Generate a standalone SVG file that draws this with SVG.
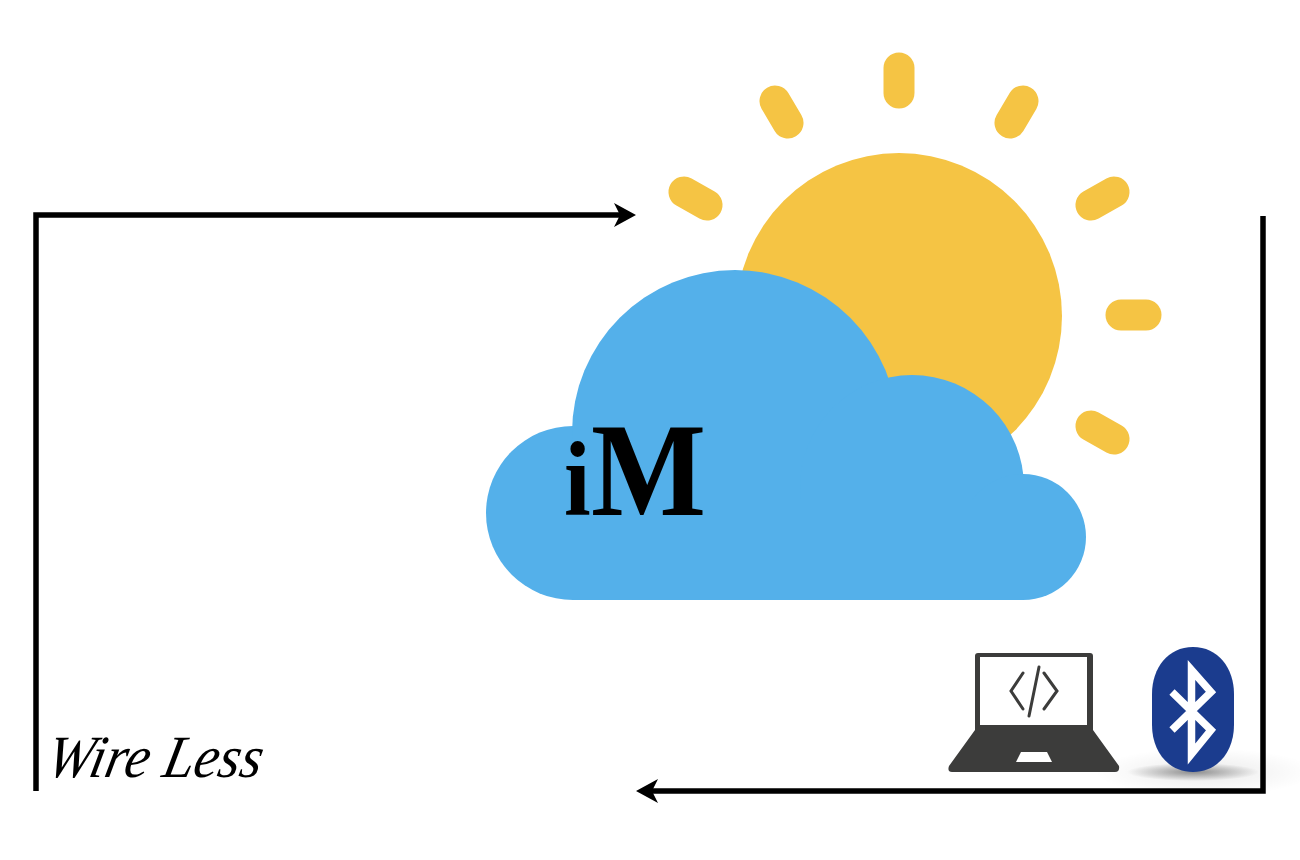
<svg xmlns="http://www.w3.org/2000/svg" width="1300" height="860" viewBox="0 0 1300 860">
<style>
.wire{fill:none;stroke:#000;stroke-width:5.500;stroke-linecap:butt;stroke-linejoin:miter}
.ray{fill:none;stroke:#f5c444;stroke-width:31;stroke-linecap:round}
.cloud{fill:#54b0ea}
.code{fill:none;stroke:#3c3c3b;stroke-width:3;stroke-linecap:round;stroke-linejoin:miter}
</style>
<defs>
<marker id="arrow" markerUnits="userSpaceOnUse" markerWidth="24" markerHeight="26" refX="7" refY="13" orient="auto">
<path d="M0 1 L22 13 L0 25 L6 13 Z" fill="#000"/>
</marker>
<radialGradient id="sh" cx="0.5" cy="0.5" r="0.5">
<stop offset="0" stop-color="#000" stop-opacity="0.4"/>
<stop offset="0.6" stop-color="#000" stop-opacity="0.16"/>
<stop offset="1" stop-color="#000" stop-opacity="0"/>
</radialGradient>
<radialGradient id="sh2" cx="0.5" cy="0.5" r="0.5">
<stop offset="0" stop-color="#000" stop-opacity="0.08"/>
<stop offset="1" stop-color="#000" stop-opacity="0"/>
</radialGradient>
</defs>
<rect width="1300" height="860" fill="#fff"/>
<g id="sun">
<circle cx="899" cy="316" r="163" fill="#f5c444"/>
<path class="ray" d="M899 68V93"/>
<path class="ray" d="M775 101L788 123"/>
<path class="ray" d="M1023 101L1010 123"/>
<path class="ray" d="M684 192L707 205"/>
<path class="ray" d="M1114 192L1091 205"/>
<path class="ray" d="M1121 315H1146"/>
<path class="ray" d="M1091 426L1114 439"/>
</g>
<g id="cloud">
<circle class="cloud" cx="573" cy="513" r="87"/>
<circle class="cloud" cx="735" cy="433" r="163"/>
<circle class="cloud" cx="912" cy="487" r="112"/>
<circle class="cloud" cx="1023" cy="537" r="63"/>
<rect class="cloud" x="573" y="500" width="450" height="100"/>
<text transform="translate(564 515) scale(1 1.1)" font-family="'Liberation Serif',serif" font-size="96" font-weight="bold" fill="#000">i</text>
<text x="591" y="515" font-family="'Liberation Serif',serif" font-size="133" font-weight="bold" textLength="115" lengthAdjust="spacingAndGlyphs" fill="#000">M</text>
</g>
<g id="bluetooth">
<ellipse cx="1205" cy="772" rx="110" ry="24" fill="url(#sh2)"/>
<ellipse cx="1193" cy="772" rx="66" ry="9" fill="url(#sh)"/>
<path d="M1193 647C1218 647 1234 668 1234 694V725C1234 751 1218 772 1193 772C1168 772 1152 751 1152 725V694C1152 668 1168 647 1193 647Z" fill="#1b3c8e"/>
<path d="M1172 692L1211 730L1191.500 754V670L1211 692L1172 730" fill="none" stroke="#fff" stroke-width="7.500" stroke-miterlimit="6"/>
</g>
<g id="laptop">
<path d="M975 730V656Q975 653 978 653H1090Q1093 653 1093 656V730L1119 766Q1120 772 1115 772H952Q947 772 949 766Z" fill="#3c3c3b"/>
<rect x="980" y="657" width="107" height="68" fill="#fff"/>
<path d="M1021 752H1047L1052 762H1016Z" fill="#fff"/>
<path class="code" d="M1023 673L1011 691L1023 709M1044 673L1057 691L1044 709"/>
<path class="code" d="M1039 667L1029 716"/>
</g>
<g id="wire-less">
<text transform="translate(44 777) skewX(-12)" font-family="'Liberation Serif',serif" font-style="italic" font-size="60" textLength="215" lengthAdjust="spacingAndGlyphs" fill="#000">Wire Less</text>
</g>
<g id="connectors">
<path class="wire" d="M36 791V215H621" marker-end="url(#arrow)"/>
<path class="wire" d="M1263 216V791H651" marker-end="url(#arrow)"/>
</g>
</svg>
